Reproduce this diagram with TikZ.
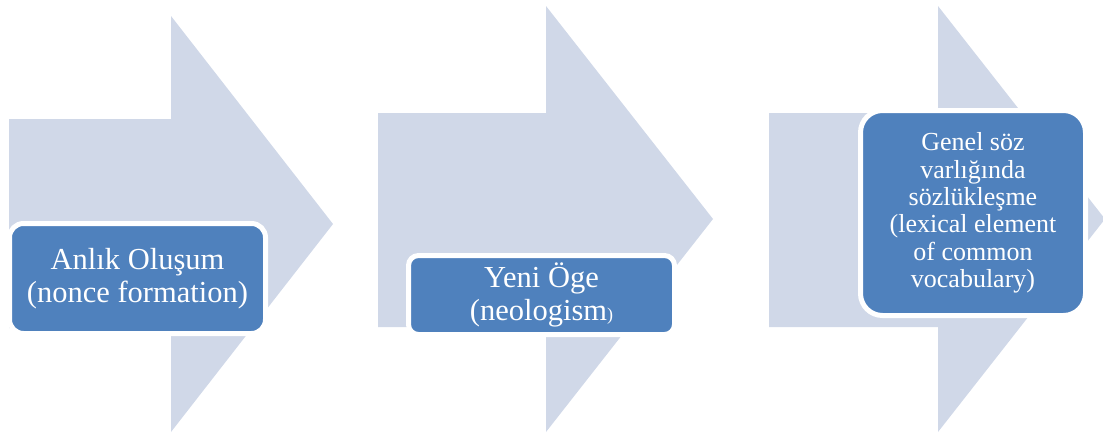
\documentclass[tikz,border=0pt]{standalone}
\usepackage{fontspec}
\setmainfont{Liberation Serif}
\definecolor{arrowfill}{HTML}{D0D8E8}
\definecolor{boxfill}{HTML}{4F81BD}
\begin{document}
\begin{tikzpicture}[x=1pt,y=-1pt,
  bigarrow/.style={fill=arrowfill,draw=none},
  stagebox/.style={rectangle,fill=boxfill,draw=white,line width=5pt,
    text=white,align=center,inner sep=0pt},
  bigtext/.style={font=\fontsize{30.5}{33}\selectfont},
  smalltext/.style={font=\fontsize{26}{27.3}\selectfont}]
\useasboundingbox (0,0) rectangle (1103,432);
% large background arrows
\fill[bigarrow] (9,119) -- (171,119) -- (171,16) -- (333,224) -- (171,432) -- (171,328) -- (9,328) -- cycle;
\fill[bigarrow] (378,113) -- (546,113) -- (546,6) -- (713,219) -- (546,432) -- (546,327) -- (378,327) -- cycle;
\fill[bigarrow] (769,113) -- (938,113) -- (938,6) -- (1105,219) -- (938,432) -- (938,327) -- (769,327) -- cycle;
% stage boxes
\node[stagebox,bigtext,rounded corners=14pt,minimum width=256pt,minimum height=110pt]
  (b1) at (137.5,278.5) {Anlık Oluşum\\(nonce formation)};
\node[stagebox,bigtext,rounded corners=10pt,minimum width=266pt,minimum height=79pt]
  (b2) at (541.5,295) {Yeni Öge\\(neologism{\fontsize{18}{18}\selectfont )}};
\node[stagebox,smalltext,rounded corners=22pt,minimum width=225pt,minimum height=205pt]
  (b3) at (973,213) {Genel söz\\varlığında\\sözlükleşme\\(lexical element\\of common\\vocabulary)};
\end{tikzpicture}
\end{document}
